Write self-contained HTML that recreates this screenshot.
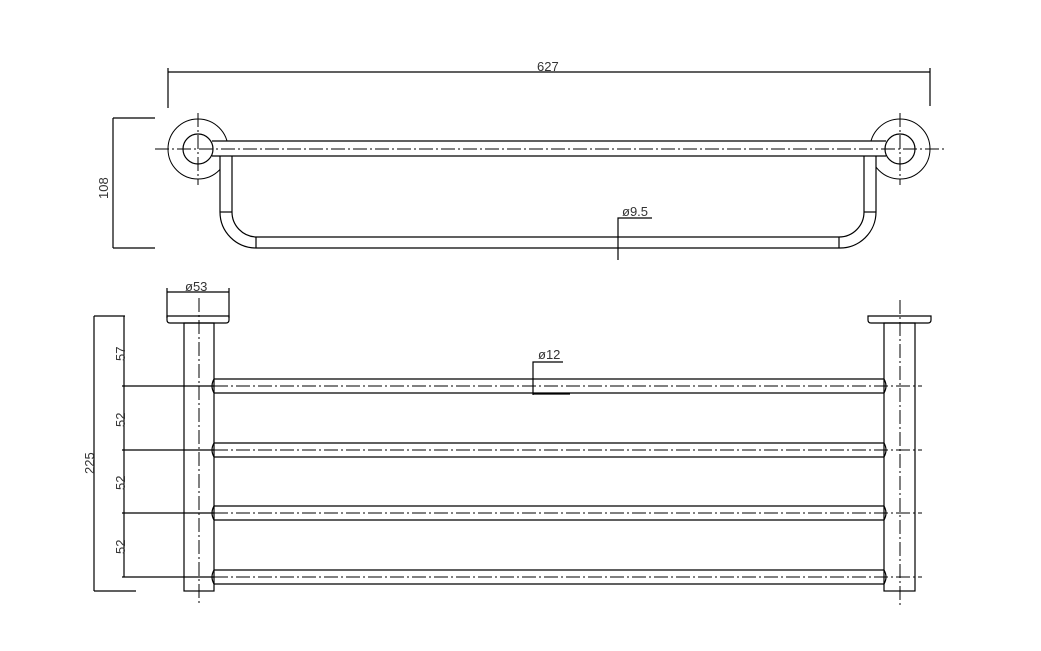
<!DOCTYPE html>
<html><head><meta charset="utf-8"><style>
html,body{margin:0;padding:0;background:#fff;}
svg{display:block}
text{font-family:"Liberation Sans",sans-serif;font-size:13px;fill:#333}
</style></head><body>
<svg width="1041" height="651" viewBox="0 0 1041 651" xmlns="http://www.w3.org/2000/svg">
<g fill="none" stroke="#000" stroke-width="1.2">
<!-- top view dims -->
<line x1="168" y1="72" x2="930" y2="72"/>
<line x1="168" y1="68" x2="168" y2="108"/>
<line x1="930" y1="68" x2="930" y2="106"/>
<line x1="113" y1="118" x2="113" y2="248"/>
<line x1="113" y1="118" x2="155" y2="118"/>
<line x1="113" y1="248" x2="155" y2="248"/>
<!-- circles -->
<circle cx="198" cy="149" r="30" stroke-width="1"/>
<circle cx="900" cy="149" r="30" stroke-width="1"/>
<!-- occlusion -->
<rect x="212" y="141" width="676" height="15" fill="#fff" stroke="none"/>
<rect x="220" y="156" width="12" height="30" fill="#fff" stroke="none"/>
<rect x="864" y="156" width="12" height="30" fill="#fff" stroke="none"/>
<circle cx="198" cy="149" r="15" fill="#fff"/>
<circle cx="900" cy="149" r="15" fill="#fff"/>
<!-- top rail -->
<line x1="212" y1="141" x2="886" y2="141"/>
<line x1="212" y1="156" x2="886" y2="156"/>
<!-- hooks -->
<path d="M220 156 V212 A36 36 0 0 0 256 248 H839 A36 36 0 0 0 876 212 V156"/>
<path d="M232 156 V212 A25 25 0 0 0 256 237 H839 A25 25 0 0 0 864 212 V156"/>
<line x1="220" y1="212" x2="232" y2="212"/>
<line x1="256" y1="237" x2="256" y2="248"/>
<line x1="864" y1="212" x2="876" y2="212"/>
<line x1="839" y1="237" x2="839" y2="248"/>
<!-- phi 9.5 -->
<polyline points="618,260 618,218 652,218"/>
<!-- bottom view -->
<line x1="167" y1="292" x2="229" y2="292"/>
<line x1="167" y1="288" x2="167" y2="318"/>
<line x1="229" y1="288" x2="229" y2="318"/>
<path d="M167 316 H229 V320 Q229 323 226 323 H170 Q167 323 167 320 Z"/>
<rect x="184" y="323" width="30" height="268"/>
<path d="M868 316 H931 V320 Q931 323 928 323 H871 Q868 323 868 320 Z"/>
<rect x="884" y="323" width="31" height="268"/>
<!-- bars -->
<path d="M214 379 H884 Q888 386 884 393 H214 Q210 386 214 379 Z"/>
<path d="M214 443 H884 Q888 450 884 457 H214 Q210 450 214 443 Z"/>
<path d="M214 506 H884 Q888 513 884 520 H214 Q210 513 214 506 Z"/>
<path d="M214 570 H884 Q888 577 884 584 H214 Q210 577 214 570 Z"/>
<!-- dims left -->
<line x1="94" y1="316" x2="94" y2="591"/>
<line x1="94" y1="316" x2="125" y2="316"/>
<line x1="94" y1="591" x2="136" y2="591"/>
<line x1="124" y1="316" x2="124" y2="577"/>
<line x1="122" y1="386" x2="214" y2="386"/>
<line x1="122" y1="450" x2="214" y2="450"/>
<line x1="122" y1="513" x2="214" y2="513"/>
<line x1="122" y1="577" x2="214" y2="577"/>
<!-- phi 12 -->
<polyline points="533,395 533,362 563,362"/>
<line x1="533" y1="394" x2="570" y2="394"/>
</g>
<!-- centerlines -->
<g fill="none" stroke="#000" stroke-width="1" stroke-dasharray="14 3 2 3">
<line x1="155" y1="149" x2="945" y2="149"/>
<line x1="198" y1="113" x2="198" y2="185"/>
<line x1="900" y1="113" x2="900" y2="185"/>
<line x1="199" y1="298" x2="199" y2="605"/>
<line x1="900" y1="300" x2="900" y2="605"/>
<line x1="214" y1="386" x2="922" y2="386"/>
<line x1="214" y1="450" x2="922" y2="450"/>
<line x1="214" y1="513" x2="922" y2="513"/>
<line x1="214" y1="577" x2="922" y2="577"/>
</g>
<text x="537" y="71">627</text>
<text transform="translate(108,199) rotate(-90)">108</text>
<text x="622" y="216">ø9.5</text>
<text x="185" y="291">ø53</text>
<text x="538" y="359">ø12</text>
<text transform="translate(125,361) rotate(-90)">57</text>
<text transform="translate(125,427) rotate(-90)">52</text>
<text transform="translate(125,490) rotate(-90)">52</text>
<text transform="translate(125,554) rotate(-90)">52</text>
<text transform="translate(94,474) rotate(-90)">225</text>
</svg>
</body></html>
